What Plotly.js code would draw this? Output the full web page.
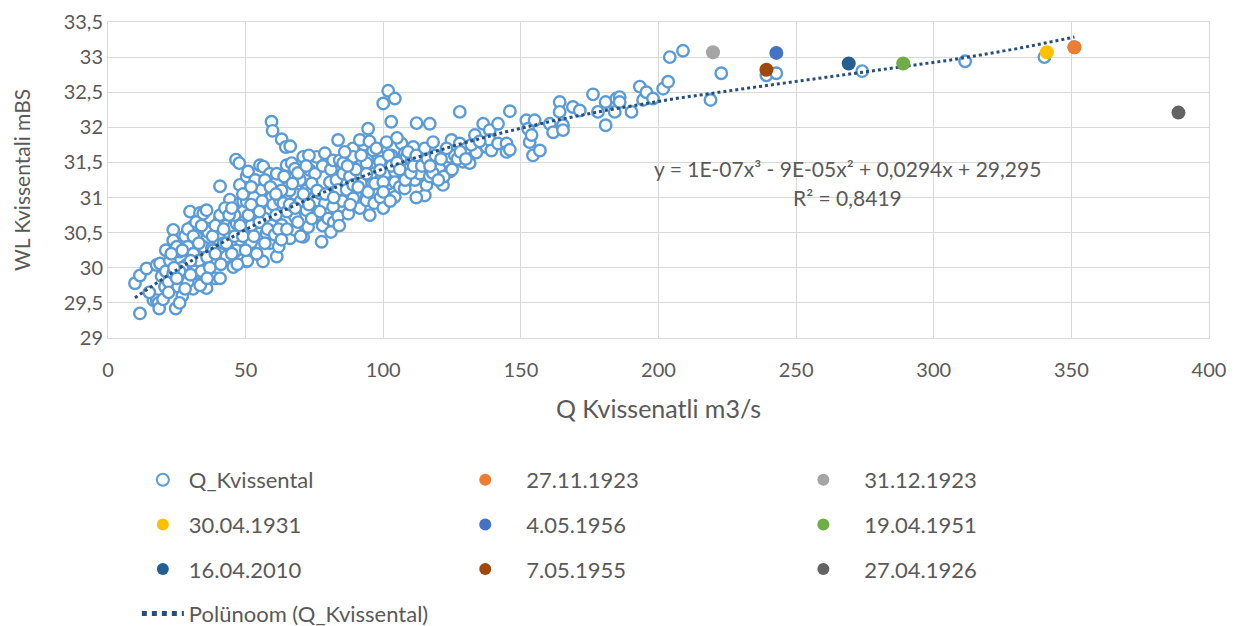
<!DOCTYPE html>
<html>
<head>
<meta charset="utf-8">
<script src="https://cdn.plot.ly/plotly-3.0.1.min.js"></script>
<style>
  html, body { margin: 0; padding: 0; background: #ffffff; }
  #chart { width: 1239px; height: 626px; }
</style>
</head>
<body>
<div id="chart"></div>
<script>
// Discharge (m3/s) and water level (mBS) pairs for Kvissental
const qKvissental = [
  9.8, 11.6, 11.6, 14, 16.5, 17.7, 18.3, 18.6, 17.7, 18.9, 20.7, 19.5, 21, 22, 22.5, 23.7, 23.7, 23.7, 24.6, 25.5,
  26.1, 27, 28.5, 28, 29.8, 30.4, 30.9, 32.2, 33.4, 34.6, 34.6, 35.2, 35.8, 35.8, 35.8, 35.8, 36.4, 37.7, 38.2, 38.9,
  40.7, 40.7, 40.7, 40.7, 40.7, 27, 29, 31, 32, 33, 29, 26, 31.5, 33.5,
  15, 20, 22, 24, 25, 26, 27, 28, 29, 30, 31, 32, 33, 34, 36, 37, 38, 39, 39, 36, 34, 30, 25, 21, 23,
  43, 43, 44.3, 44.3, 44.3, 45.5, 45.5, 46.1, 46.5, 46.7, 46.7, 47.7, 47.9, 47.9, 49.1, 49.1, 50.4, 50.4, 50.4, 50.6,
  50.9, 52, 54, 55.2, 55.2, 55.2, 55.8, 56.3, 56.4, 57.6, 58.8, 58.8, 58.8, 59.4, 59.8,
  42, 42.5, 46, 48, 52, 53, 57, 53.5, 57, 59.5, 59.5,
  41, 42, 43, 44, 45, 46, 47, 48, 49, 50, 51, 52, 53, 54, 55, 56, 57, 58, 59, 60, 45, 49, 52, 55,
  60.6, 61.3, 61.3, 62.5, 63.1, 63.1, 63.7, 64.6, 64.9, 64.9, 66.1, 66.2, 66.7, 67.9, 67.9, 67.9, 69.7, 70.9, 70.9, 72.1,
  72.7, 73.3, 75.2, 75.8, 75.8, 75.8, 77, 77.6, 78.8, 78.8,
  62, 65, 68, 70, 72, 74, 78, 69, 73, 66, 61, 63,
  61, 62, 63, 64, 65, 66, 67, 68, 69, 70, 71, 72, 73, 74, 76, 77, 78, 79, 80, 81, 82, 84, 85, 86, 88, 89, 90, 91, 92, 93,
  95, 96, 97, 98, 99, 100, 101, 102, 103,
  80.6, 81, 81.8, 81.8, 83, 83.6, 83.6, 83.6, 84.2, 85.4, 85.4, 86.7, 87.3, 87.9, 89.1, 89.1, 89.1, 90.9, 91.5, 91.5,
  93.9, 93.9, 93.9, 94.5, 94.5, 95.1, 96.3, 96.7, 98.8, 98.8,
  82, 86, 88, 90, 92, 97, 99, 95, 87, 84,
  100, 100, 100, 101.2, 101.8, 102.9, 104.2, 104.2, 104.2, 104.2, 106, 106.6, 107.8, 107.8, 107.8, 108.5, 110.3, 110.9, 111.5, 112.1,
  113.3, 115.1, 115.1, 115.7, 116.9, 116.9, 118.1, 118.1, 120.6, 121.7, 123.6, 124.2, 124.2, 124.8, 127.8, 127.8, 129, 130.2, 131.4, 133.3,
  133.8, 136.3, 137.5, 138.7, 138.7, 139.3,
  102, 103, 109, 113, 105, 112, 118, 122, 126, 100, 97.5, 102.5,
  105, 106, 108, 109, 110, 111, 112, 114, 116, 117, 119, 120, 121, 123, 125, 127, 128, 130, 132, 135,
  141.7, 141.7, 144.8, 144.8, 146, 146, 152, 152.6, 153.2, 153.9, 154.4, 155, 156.9, 160.5, 161.7, 164.1, 164.1, 165.3, 165.3, 168.9,
  171.4, 176.2, 178, 180.8, 180.8, 184.1, 184.7, 185.9, 185.9, 190.2, 193.2, 194.4, 195.6, 198, 201.7, 203.5, 204.1, 208.9, 218.9, 222.8,
  239.2, 242.8, 274, 311.4, 340.2, 351.1
];
const wlKvissental = [
  29.78, 29.35, 29.89, 29.99, 29.54, 29.54, 29.5, 29.42, 30.04, 30.06, 29.73, 29.88, 29.95, 29.8, 30.1, 30.54, 30.39, 29.92, 29.42, 29.73,
  30.23, 29.6, 30.04, 30.45, 30.8, 30.58, 29.7, 29.92, 30.78, 30.77, 30.3, 29.85, 29.71, 30.01, 30.56, 30.82, 30.51, 30.28, 30.25, 29.85,
  29.85, 30.48, 30.7, 30.75, 31.16, 30.0, 30.3, 30.2, 30.45, 30.1, 29.8, 29.95, 29.95, 29.75,
  29.65, 29.55, 29.65, 30.0, 30.3, 29.5, 30.25, 29.7, 30.55, 30.1, 30.45, 30.65, 30.35, 29.95, 30.15, 30.0, 30.45, 30.6, 30.2, 29.85, 30.6, 29.9, 29.85, 30.25, 30.2,
  30.16, 30.6, 30.44, 30.82, 30.97, 30.01, 30.58, 30.23, 31.54, 30.63, 30.25, 31.49, 31.18, 30.92, 30.94, 30.8, 30.94, 30.09, 31.3, 30.1,
  31.37, 30.36, 30.87, 31.46, 31.13, 30.49, 31.11, 30.09, 31.44, 30.49, 30.82, 30.35, 31.34, 32.08, 31.95,
  30.35, 30.85, 30.75, 30.4, 30.6, 31.0, 30.7, 31.25, 31.25, 31.0, 30.6,
  30.05, 30.55, 30.35, 30.75, 30.2, 30.45, 30.05, 30.6, 30.45, 30.25, 30.75, 30.9, 30.45, 30.2, 30.65, 30.95, 30.35, 30.55, 31.15, 30.9, 30.85, 31.05, 31.15, 30.8,
  30.47, 31.34, 30.16, 30.96, 31.83, 30.61, 30.92, 31.72, 31.13, 31.46, 30.42, 31.73, 31.49, 30.73, 30.54, 31.41, 31.25, 31.58, 30.44, 30.82,
  30.58, 31.39, 31.34, 31.58, 30.96, 30.75, 31.06, 30.37, 30.92, 31.63,
  30.3, 30.8, 31.05, 30.95, 31.1, 30.7, 30.6, 30.65, 31.6, 31.1, 30.75, 31.1,
  31.05, 30.55, 30.4, 31.3, 30.55, 30.9, 31.2, 30.85, 31.35, 30.45, 31.05, 31.45, 30.9, 31.2, 31.1, 30.8, 31.45, 31.05, 30.7, 31.4, 30.65, 31.15, 30.95, 31.25, 31.5, 31.7, 31.05, 31.3, 31.2, 31.75,
  31.45, 31.2, 31.35, 31.6, 31.25, 31.45, 31.35, 31.2, 31.6,
  31.22, 30.51, 31.53, 30.87, 31.25, 30.73, 31.82, 31.11, 31.53, 31.49, 31.34, 31.11, 30.77, 31.3, 31.58, 30.99, 31.18, 31.15, 31.82, 30.85,
  31.49, 31.34, 30.96, 31.98, 31.08, 30.75, 31.67, 30.92, 31.51, 31.39,
  31.0, 31.65, 30.9, 31.4, 31.6, 31.2, 31.0, 31.8, 31.45, 30.6,
  32.34, 31.22, 31.08, 31.79, 32.52, 32.08, 32.41, 31.37, 31.01, 31.22, 31.15, 31.77, 31.63, 31.13, 31.34, 31.58, 31.53, 31.72, 31.25, 32.06,
  31.34, 31.7, 31.03, 31.18, 32.05, 31.3, 31.56, 31.79, 31.41, 31.18, 31.51, 31.37, 31.58, 31.82, 32.22, 31.77, 31.51, 31.7, 31.49, 31.89,
  31.64, 32.05, 31.72, 31.96, 31.82, 31.67,
  31.6, 31.45, 31.4, 31.55, 31.85, 31.0, 31.35, 31.3, 31.6, 30.85, 31.7, 30.95,
  31.5, 31.4, 31.25, 31.65, 31.35, 31.45, 31.6, 31.45, 31.55, 31.45, 31.6, 31.25, 31.55, 31.7, 31.4, 31.55, 31.65, 31.55, 31.75, 31.8,
  32.05, 31.77, 31.77, 31.65, 32.23, 31.68, 32.1, 31.98, 31.79, 31.89, 31.6, 32.1, 31.67, 32.05, 31.93, 32.36, 32.22, 32.03, 31.96, 32.29,
  32.24, 32.47, 32.22, 32.36, 32.03, 32.22, 32.41, 32.43, 32.36, 32.22, 32.58, 32.39, 32.5, 32.41, 32.55, 32.65, 33.0, 33.09, 32.39, 32.77,
  32.74, 32.77, 32.8, 32.94, 33.0, 33.14
];

// Individual flood events
const eventNames = ["27.11.1923", "31.12.1923", "30.04.1931", "4.05.1956", "19.04.1951", "16.04.2010", "7.05.1955", "27.04.1926"];
const eventQ     = [351.1, 219.8, 341.1, 242.8, 288.9, 269.1, 239.2, 388.9];
const eventWL    = [33.14, 33.07, 33.07, 33.06, 32.91, 32.91, 32.82, 32.21];

// Third-order polynomial trend (constant, x, x², x³)
const trendCoef = [29.295, 0.0294, -0.0000949, 0.000000124];
const trendLabel = "y = 1E-07x³ - 9E-05x² + 0,0294x + 29,295";
const r2Label = "R² = 0,8419";

// Axis tick values
const xTicks = [0, 50, 100, 150, 200, 250, 300, 350, 400];
const yTicks = [29, 29.5, 30, 30.5, 31, 31.5, 32, 32.5, 33, 33.5];

// ---- styling ----
const eventColors = ["#ED7D31", "#A5A5A5", "#FFC000", "#4472C4", "#70AD47", "#255E91", "#9E480E", "#636363"];
// legend column and row for each event
const eventLegend = ["legend2", "legend3", "legend", "legend2", "legend3", "legend", "legend2", "legend3"];
const eventRank   = [1, 1, 2, 2, 2, 3, 3, 3];

const textColor = "#595959";
const fontFamily = "Lato, 'Open Sans', sans-serif";

const traces = [];

traces.push({
  type: "scatter", mode: "markers",
  name: "Q_Kvissental",
  x: qKvissental, y: wlKvissental,
  marker: { symbol: "circle", size: 11.5, color: "#ffffff", line: { color: "#5B9BD5", width: 2.4 } },
  legend: "legend", legendgroup: "g0", legendrank: 1,
  hoverinfo: "x+y"
});

// trend curve evaluated over the observed discharge range
const qMin = Math.min(...qKvissental), qMax = Math.max(...qKvissental);
const tx = [], ty = [];
for (let i = 0; i <= 200; i++) {
  const x = qMin + (qMax - qMin) * i / 200;
  tx.push(x);
  ty.push(trendCoef[0] + trendCoef[1] * x + trendCoef[2] * x * x + trendCoef[3] * x * x * x);
}
traces.push({
  type: "scatter", mode: "lines",
  name: "Polünoom (Q_Kvissental)",
  x: tx, y: ty,
  line: { color: "#264E7A", width: 3, dash: "dot" },
  legend: "legend", legendgroup: "g9", legendrank: 4,
  hoverinfo: "skip"
});

eventNames.forEach((n, i) => {
  traces.push({
    type: "scatter", mode: "markers",
    name: n,
    x: [eventQ[i]], y: [eventWL[i]],
    marker: { symbol: "circle", size: 14, color: eventColors[i] },
    legend: eventLegend[i], legendgroup: "e" + i, legendrank: eventRank[i]
  });
});

const legendBase = {
  orientation: "v",
  xanchor: "left", yanchor: "top",
  yref: "container",
  y: 0.2668,
  font: { family: fontFamily, size: 22, color: textColor },
  bgcolor: "rgba(0,0,0,0)",
  tracegroupgap: 13,
  itemsizing: "constant"
};

const layout = {
  width: 1239, height: 626,
  paper_bgcolor: "#ffffff", plot_bgcolor: "#ffffff",
  margin: { l: 108, r: 30, t: 22, b: 288 },
  separators: ", ",
  font: { family: fontFamily, color: textColor, size: 20 },
  showlegend: true,
  xaxis: {
    range: [0, 400], tickvals: xTicks, ticks: "",
    showgrid: true, gridcolor: "#D9D9D9", gridwidth: 1,
    showline: true, linecolor: "#D9D9D9", linewidth: 1, mirror: true,
    zeroline: false,
    ticklabelstandoff: 14,
    tickfont: { family: fontFamily, size: 20, color: textColor },
    title: { text: "Q Kvissenatli m3/s", font: { family: fontFamily, size: 25, color: textColor }, standoff: 20 }
  },
  yaxis: {
    range: [29, 33.5], tickvals: yTicks, ticks: "",
    showgrid: true, gridcolor: "#D9D9D9", gridwidth: 1,
    showline: true, linecolor: "#D9D9D9", linewidth: 1, mirror: true,
    zeroline: false,
    tickfont: { family: fontFamily, size: 20, color: textColor },
    title: { text: "WL Kvissentali mBS", font: { family: fontFamily, size: 21, color: textColor }, standoff: 27 }
  },
  legend:  Object.assign({}, legendBase, { x: 0.0262, itemwidth: 42 }),
  legend2: Object.assign({}, legendBase, { x: 0.3054, itemwidth: 72 }),
  legend3: Object.assign({}, legendBase, { x: 0.6125, itemwidth: 72 }),
  annotations: [
    { xref: "x", yref: "y", x: 268.5, y: 31.42, text: trendLabel, showarrow: false,
      font: { family: fontFamily, size: 21, color: textColor }, xanchor: "center", yanchor: "middle" },
    { xref: "x", yref: "y", x: 268.5, y: 31.0, text: r2Label, showarrow: false,
      font: { family: fontFamily, size: 21, color: textColor }, xanchor: "center", yanchor: "middle" }
  ]
};

Plotly.newPlot("chart", traces, layout, { displayModeBar: false, staticPlot: true });
</script>
</body>
</html>
